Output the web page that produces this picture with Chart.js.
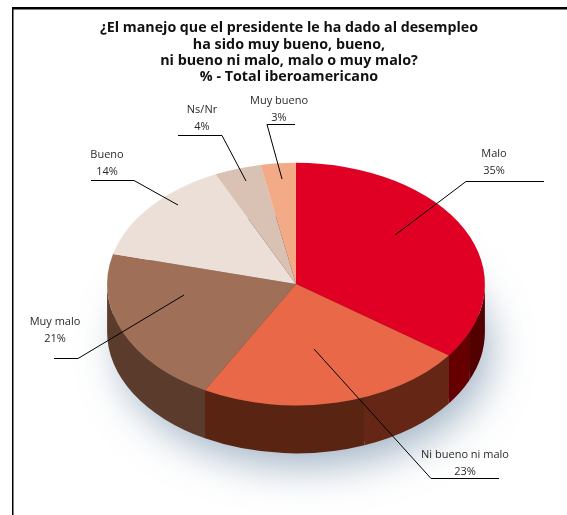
<!DOCTYPE html>
<html>
<head>
<meta charset="utf-8">
<title>Manejo del desempleo</title>
<script src="https://cdn.jsdelivr.net/npm/chart.js@4"></script>
<style>
    html, body { margin: 0; padding: 0; background: #fff; overflow: hidden; }
    canvas { display: block; }
</style>
</head>
<body>
<canvas id="pieChart" width="567" height="515"></canvas>
<script>
// Chart data
const categories = ['Malo', 'Ni bueno ni malo', 'Muy malo', 'Bueno', 'Ns/Nr', 'Muy bueno'];
const percentages = [35, 23, 21, 14, 4, 3];
const titleLines = [
    '¿El manejo que el presidente le ha dado al desempleo',
    'ha sido muy bueno, bueno,',
    'ni bueno ni malo, malo o muy malo?',
    '% - Total iberoamericano'
];

// Colours
const topColors = ['#df0024', '#e86848', '#a06f58', '#ecdfd7', '#d9c1b4', '#f2ab86'];
// side wall: [colour, colour after the seam]
const sideColors = [['#530000', '#660000'], ['#652616', '#5a2413'], ['#5a3b2c', '#5a3b2c'], [], [], []];
const sideSeams = [0.41, 1.2, 0, 0, 0, 0]; // seam angle in radians, 0 = right edge

// Look of the fake 3D pie
const SQUASH = 0.642;  // height / width of the top ellipse
const DEPTH = 48;     // height of the side wall in px
const TITLE_SHIFT = 7; // title sits a little left of the pie

// Label text position (centre x, first line y) and leader line, one per category
const labelBoxes = [
    { x: 494, y: 154, line: [[544, 181.5], [466, 181.5], [395, 235]] },
    { x: 465, y: 455, line: [[499, 478.5], [431, 478.5], [314, 349]] },
    { x: 55, y: 322, line: [[54, 358.5], [78, 358.5], [184, 295]] },
    { x: 107, y: 155, line: [[91, 180.5], [134, 180.5], [178, 205]] },
    { x: 202, y: 110, line: [[178, 135.5], [222, 135.5], [246, 181]] },
    { x: 279, y: 101, line: [[295, 124.5], [267, 124.5], [282, 179]] }
];

// Black frame at the top and left of the page
const framePlugin = {
    id: 'frame',
    afterLayout(chart) {
        chart.titleBlock.left -= TITLE_SHIFT;
        chart.titleBlock.right -= TITLE_SHIFT;
    },
    beforeDraw(chart) {
        const ctx = chart.ctx;
        ctx.save();
        ctx.fillStyle = '#000';
        ctx.fillRect(12, 7, 555, 2.5);
        ctx.fillRect(12, 7, 1.5, 508);
        ctx.restore();
    }
};

function drawWall(ctx, cx, cy, rx, ry, from, to, color) {
    if (to <= from) return;
    ctx.beginPath();
    ctx.ellipse(cx, cy, rx, ry, 0, from, to);
    ctx.ellipse(cx, cy + DEPTH, rx, ry, 0, to, from, true);
    ctx.closePath();
    ctx.fillStyle = color;
    ctx.fill();
}

// Side wall and drop shadow, then squash the arcs into an ellipse
const pie3dPlugin = {
    id: 'pie3d',
    beforeDatasetsDraw(chart) {
        const ctx = chart.ctx;
        const arcs = chart.getDatasetMeta(0).data;
        const { x: cx, y: cy, outerRadius: rx } = arcs[0];
        const ry = rx * SQUASH;

        // shadow under the pie
        ctx.save();
        ctx.shadowColor = 'rgba(70, 105, 140, 0.5)';
        ctx.shadowBlur = 40;
        ctx.shadowOffsetX = 9;
        ctx.shadowOffsetY = 17;
        ctx.fillStyle = '#5a3b2c';
        ctx.beginPath();
        ctx.ellipse(cx, cy + DEPTH, rx - 4, ry - 4, 0, 0, Math.PI * 2);
        ctx.fill();
        ctx.restore();

        // only the part of each arc facing the viewer (0 to PI)
        arcs.forEach((arc, i) => {
            const from = Math.max(arc.startAngle, 0);
            const to = Math.min(arc.endAngle, Math.PI);
            if (to <= from) return;
            const seam = Math.min(Math.max(sideSeams[i], from), to);
            drawWall(ctx, cx, cy, rx, ry, from, seam, sideColors[i][0]);
            drawWall(ctx, cx, cy, rx, ry, seam, to, sideColors[i][1]);
        });

        ctx.save();
        ctx.translate(cx, cy);
        ctx.scale(1, SQUASH);
        ctx.translate(-cx, -cy);
    },
    afterDatasetsDraw(chart) {
        chart.ctx.restore();
    }
};

// Leader lines and two line labels
const labelPlugin = {
    id: 'sliceLabels',
    afterDraw(chart) {
        const ctx = chart.ctx;
        ctx.save();
        ctx.strokeStyle = '#000';
        ctx.lineWidth = 1;
        ctx.fillStyle = '#2a2a2a';
        ctx.font = '11px "Open Sans"';
        ctx.textAlign = 'center';
        ctx.textBaseline = 'middle';
        categories.forEach((name, i) => {
            const box = labelBoxes[i];
            ctx.fillText(name, box.x, box.y);
            ctx.fillText(percentages[i] + '%', box.x, box.y + 17);
            ctx.beginPath();
            box.line.forEach(([x, y], n) => n ? ctx.lineTo(x, y) : ctx.moveTo(x, y));
            ctx.stroke();
        });
        ctx.restore();
    }
};

new Chart(document.getElementById('pieChart').getContext('2d'), {
    type: 'pie',
    data: {
        labels: categories,
        datasets: [{
            data: percentages,
            backgroundColor: topColors,
            borderWidth: 0
        }]
    },
    options: {
        responsive: false,
        animation: false,
        layout: {
            padding: { left: 107, right: 82, top: 0, bottom: 42 }
        },
        plugins: {
            legend: { display: false },
            tooltip: { enabled: false },
            title: {
                display: true,
                text: titleLines,
                color: '#111',
                font: { family: '"Open Sans"', size: 14.3, weight: 'bold', lineHeight: 1.14 },
                padding: { top: 20, bottom: 10 }
            }
        }
    },
    plugins: [framePlugin, pie3dPlugin, labelPlugin]
});
</script>
</body>
</html>
